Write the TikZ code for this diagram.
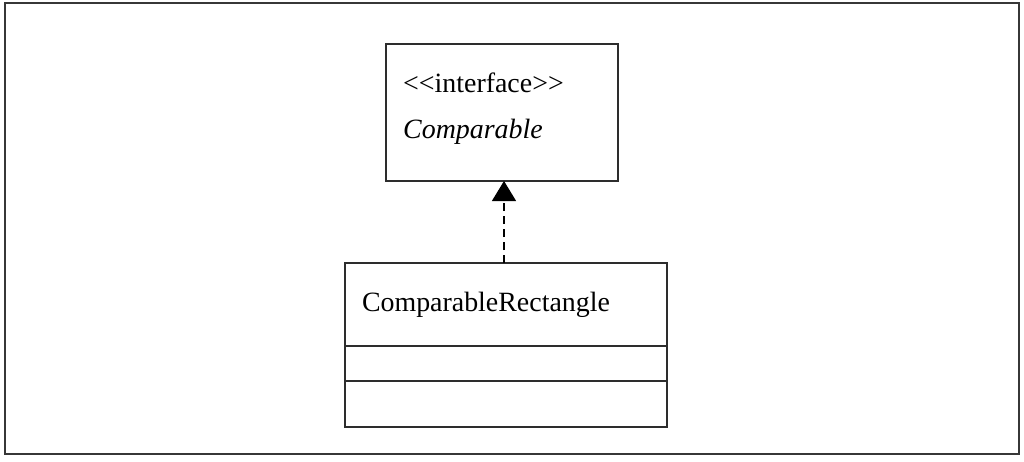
\documentclass[tikz,border=0pt]{standalone}
\usepackage{fontspec}
\setmainfont{Liberation Serif}
\usepackage{tikz}
\usetikzlibrary{arrows.meta, positioning}
\definecolor{UmlLine}{RGB}{45, 45, 45}
\definecolor{FrameDark}{RGB}{55, 55, 55}

\begin{document}
\begin{tikzpicture}[
    x=1pt, y=-1pt,
    font=\fontsize{27.9}{33}\selectfont,
    umlbox/.style={
        rectangle, draw=UmlLine, line width=1.3pt, fill=white,
        inner sep=0pt, outer sep=0pt, minimum width=322pt
    },
    classname/.style={
        umlbox, minimum height=83pt,
        text width=288pt, align=left
    },
    stereo/.style={anchor=base west, inner sep=0pt},
    realize/.style={-{Triangle[length=20pt,width=24pt]}, line width=1.2pt,
        color=black, dash pattern=on 8pt off 5pt}
]
\useasboundingbox (0,0) rectangle (1024,461);

% Frame
\node[draw=FrameDark, line width=2.8pt, minimum width=1014pt, minimum height=451pt,
    inner sep=0pt] (frame) at (512,228.5) {};

% Nodes
\node[umlbox, minimum width=232pt, minimum height=137pt] (iface) at (502,112.5) {};
\node[stereo] (stereotype) at (403,92) {{<}{<}interface{>}{>}};
\node[stereo] (ifacename) at (403,138) {\itshape Comparable};

\node[classname] (cname) at (506,304.5) {ComparableRectangle};
\node[umlbox, minimum height=35pt, below=0pt of cname] (attrs) {};
\node[umlbox, minimum height=46pt, below=0pt of attrs] (ops) {};

% Paths
\draw[realize] ([xshift=-2pt]cname.north) -- ([xshift=-2pt]cname.north |- iface.south);

\end{tikzpicture}
\end{document}
